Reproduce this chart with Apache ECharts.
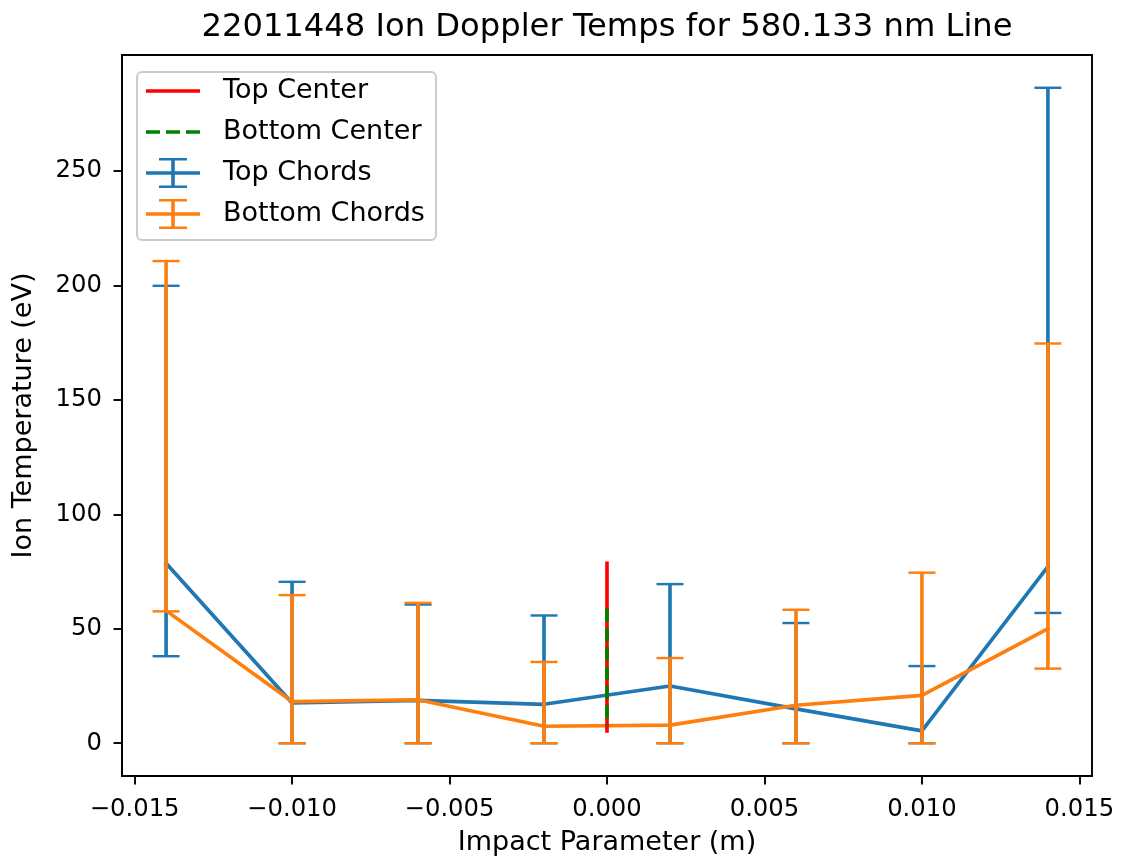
<!DOCTYPE html>
<html>
<head>
<meta charset="utf-8">
<title>22011448 Ion Doppler Temps</title>
<script src="https://cdn.jsdelivr.net/npm/echarts@6/dist/echarts.min.js"></script>
<style>
  html, body { margin: 0; padding: 0; background: #ffffff; }
  #chart { width: 1121px; height: 861px; }
</style>
</head>
<body>
<div id="chart"></div>
<script>
// Chord impact parameters (m)
const impactParam = [-0.014, -0.010, -0.006, -0.002, 0.002, 0.006, 0.010, 0.014];

// Top chords: ion temperature (eV) with lower / upper error limits
const topTemp = [78.6, 17.6, 18.7, 17.0, 25.0, 15.0, 5.4, 77.2];
const topLow  = [38.0, 0, 0, 0, 0, 0, 0, 56.9];
const topHigh = [199.8, 70.5, 60.6, 55.8, 69.5, 52.5, 33.7, 286.3];

// Bottom chords: ion temperature (eV) with lower / upper error limits
const bottomTemp = [57.9, 18.2, 19.0, 7.4, 7.9, 16.6, 20.9, 50.0];
const bottomLow  = [57.6, 0, 0, 0, 0, 0, 0, 32.6];
const bottomHigh = [210.6, 64.7, 61.3, 35.5, 37.2, 58.3, 74.5, 174.6];

// Central temperature spans drawn at b = 0 (eV)
const topCenterSpan = [78.6, 5.4];
const bottomCenterSpan = [58.8, 7.6];

// Tick labels
const xTicks = [-0.015, -0.010, -0.005, 0.000, 0.005, 0.010, 0.015];
const yTicks = [0, 50, 100, 150, 200, 250];

const BLUE = '#1f77b4', ORANGE = '#ff7f0e', RED = '#ff0000', GREEN = '#008000';
const FONT = 'DejaVu Sans';
const TICK_FS = 24.3, LABEL_FS = 27, TITLE_FS = 32.2;
const LW = 3.65;      // 1.5 pt line
const CAP_LW = 2.43;  // 1 pt cap
const CAP_HALF = 13.5;

// 5 % margins around the data, like the usual autoscale
const allX = impactParam;
const xPad = 0.05 * (Math.max(...allX) - Math.min(...allX));
const allY = topLow.concat(topHigh, bottomLow, bottomHigh);
const yLo = Math.min(...allY), yHi = Math.max(...allY);
const yPad = 0.05 * (yHi - yLo);

function errorBars(color) {
  return function (params, api) {
    const x = api.value(0);
    const pLo = api.coord([x, api.value(1)]);
    const pHi = api.coord([x, api.value(2)]);
    return {
      type: 'group',
      children: [
        { type: 'line', shape: { x1: pLo[0], y1: pLo[1], x2: pHi[0], y2: pHi[1] },
          style: { stroke: color, lineWidth: LW } },
        { type: 'line', shape: { x1: pLo[0] - CAP_HALF, y1: pLo[1], x2: pLo[0] + CAP_HALF, y2: pLo[1] },
          style: { stroke: color, lineWidth: CAP_LW } },
        { type: 'line', shape: { x1: pHi[0] - CAP_HALF, y1: pHi[1], x2: pHi[0] + CAP_HALF, y2: pHi[1] },
          style: { stroke: color, lineWidth: CAP_LW } }
      ]
    };
  };
}

// Legend handles
const solidIcon = 'path://M0,0H54V3.65H0Z';
const dashIcon = 'path://M0,0H14V3.65H0Z M20,0H34V3.65H20Z M40,0H54V3.65H40Z';
const errIcon = 'path://M0,13.2H54V16.8H0Z M25.2,1.2H28.8V28.8H25.2Z M13,0H41V2.4H13Z M13,27.6H41V30H13Z';

const tickLabel = v => (v < 0 ? '\u2212' : '') + Math.abs(v).toFixed(3);

const chart = echarts.init(document.getElementById('chart'), null, { renderer: 'canvas' });

chart.setOption({
  animation: false,
  backgroundColor: '#ffffff',
  title: {
    text: '22011448 Ion Doppler Temps for 580.133 nm Line',
    left: 607,
    textAlign: 'center',
    top: 12,
    padding: 0,
    textStyle: { fontFamily: FONT, fontSize: TITLE_FS, fontWeight: 'normal', color: '#000' }
  },
  legend: {
    orient: 'vertical',
    left: 137,
    top: 72,
    itemWidth: 54,
    itemHeight: 30,
    itemGap: 11,
    padding: [4, 11, 11, 9],
    symbolKeepAspect: true,
    backgroundColor: 'rgba(255,255,255,0.8)',
    borderColor: '#cccccc',
    borderWidth: 2,
    borderRadius: 5,
    selectedMode: false,
    textStyle: { fontFamily: FONT, fontSize: LABEL_FS, lineHeight: 30, color: '#000', padding: [0, 0, 0, 18] },
    data: [
      { name: 'Top Center', icon: solidIcon, itemStyle: { color: RED, borderWidth: 0 } },
      { name: 'Bottom Center', icon: dashIcon, itemStyle: { color: GREEN, borderWidth: 0 } },
      { name: 'Top Chords', icon: errIcon, itemStyle: { color: BLUE, borderWidth: 0 } },
      { name: 'Bottom Chords', icon: errIcon, itemStyle: { color: ORANGE, borderWidth: 0 } }
    ]
  },
  grid: {
    left: 122, right: 29, top: 55, bottom: 85,
    show: true, borderColor: '#000', borderWidth: 1.9, backgroundColor: 'transparent'
  },
  xAxis: {
    type: 'value',
    min: Math.min(...allX) - xPad,
    max: Math.max(...allX) + xPad,
    name: 'Impact Parameter (m)',
    nameLocation: 'middle',
    nameGap: 53,
    nameTextStyle: { fontFamily: FONT, fontSize: LABEL_FS, color: '#000' },
    axisLine: { show: true, onZero: false, lineStyle: { color: '#000', width: 1.9 } },
    axisTick: { show: true, customValues: xTicks, length: 8.5, lineStyle: { color: '#000', width: 1.9 } },
    axisLabel: { customValues: xTicks, margin: 22, formatter: tickLabel,
                 fontFamily: FONT, fontSize: TICK_FS, color: '#000' },
    splitLine: { show: false }
  },
  yAxis: {
    type: 'value',
    min: yLo - yPad,
    max: yHi + yPad,
    name: 'Ion Temperature (eV)',
    nameLocation: 'middle',
    nameRotate: 90,
    nameGap: 85,
    nameTextStyle: { fontFamily: FONT, fontSize: LABEL_FS, color: '#000' },
    axisLine: { show: true, onZero: false, lineStyle: { color: '#000', width: 1.9 } },
    axisTick: { show: true, customValues: yTicks, length: 8.5, lineStyle: { color: '#000', width: 1.9 } },
    axisLabel: { customValues: yTicks, margin: 20, formatter: v => String(Math.round(v)),
                 fontFamily: FONT, fontSize: TICK_FS, color: '#000' },
    splitLine: { show: false }
  },
  series: [
    {
      name: 'Top Chords',
      type: 'custom',
      renderItem: errorBars(BLUE),
      itemStyle: { color: BLUE },
      encode: { x: 0, y: [1, 2] },
      data: impactParam.map((x, i) => [x, topLow[i], topHigh[i]]),
      z: 2
    },
    {
      name: 'Top Chords',
      type: 'line',
      symbol: 'none',
      color: BLUE,
      lineStyle: { color: BLUE, width: LW, join: 'round', cap: 'square' },
      data: impactParam.map((x, i) => [x, topTemp[i]]),
      z: 2
    },
    {
      name: 'Bottom Chords',
      type: 'custom',
      renderItem: errorBars(ORANGE),
      itemStyle: { color: ORANGE },
      encode: { x: 0, y: [1, 2] },
      data: impactParam.map((x, i) => [x, bottomLow[i], bottomHigh[i]]),
      z: 3
    },
    {
      name: 'Bottom Chords',
      type: 'line',
      symbol: 'none',
      color: ORANGE,
      lineStyle: { color: ORANGE, width: LW, join: 'round', cap: 'square' },
      data: impactParam.map((x, i) => [x, bottomTemp[i]]),
      z: 3
    },
    {
      name: 'Top Center',
      type: 'line',
      symbol: 'none',
      color: RED,
      lineStyle: { color: RED, width: LW, cap: 'square' },
      data: topCenterSpan.map(v => [0, v]),
      z: 4
    },
    {
      name: 'Bottom Center',
      type: 'line',
      symbol: 'none',
      color: GREEN,
      lineStyle: { color: GREEN, width: LW, type: [13.5, 5.8], cap: 'butt' },
      data: bottomCenterSpan.map(v => [0, v]),
      z: 5
    }
  ]
});
</script>
</body>
</html>
